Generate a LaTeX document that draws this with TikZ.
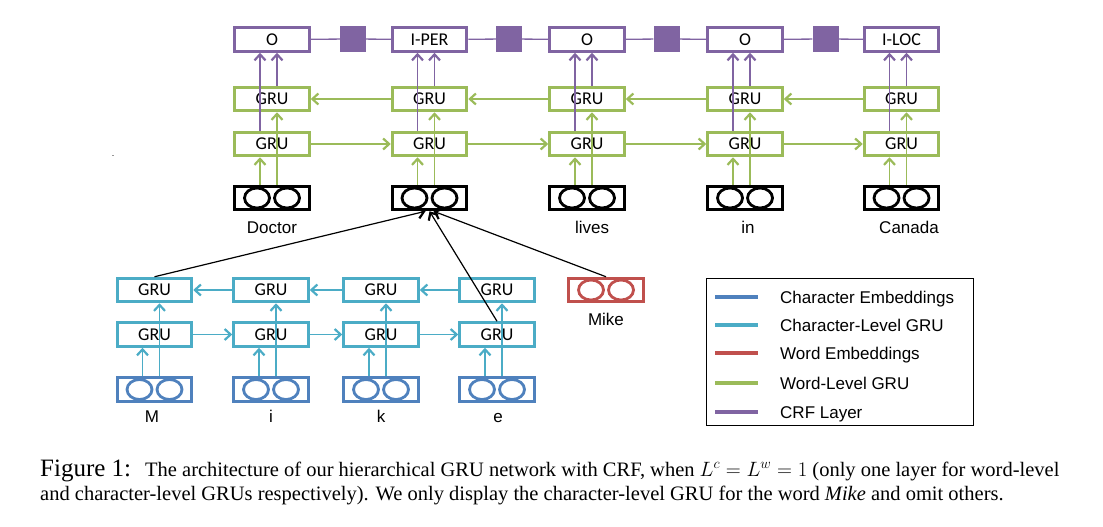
\documentclass[tikz,border=0pt]{standalone}
\usepackage{fontspec}
\setmainfont{Liberation Serif}
\newfontfamily\calfont{Carlito}
\newfontfamily\arialfont{Liberation Sans}
\usetikzlibrary{arrows.meta,positioning}
\definecolor{crfpurple}{HTML}{8064A2}
\definecolor{wordgreen}{HTML}{9BBB59}
\definecolor{chargru}{HTML}{4BACC6}
\definecolor{charemb}{HTML}{4F81BD}
\definecolor{wordemb}{HTML}{C0504D}
\tikzset{
  box/.style={rectangle,draw,line width=3pt,minimum width=74.5pt,minimum height=23.5pt,
    inner sep=0pt,font=\calfont\fontsize{18}{18}\selectfont},
  crf/.style={box,draw=crfpurple},
  wgru/.style={box,draw=wordgreen},
  cgru/.style={box,draw=chargru},
  emb/.style={box,draw=#1,path picture={
    \draw[#1,line width=2.8pt] ([xshift=-15pt]path picture bounding box.center) ellipse [x radius=12.5pt,y radius=10pt];
    \draw[#1,line width=2.8pt] ([xshift=15pt]path picture bounding box.center) ellipse [x radius=12.5pt,y radius=10pt];}},
  sq/.style={rectangle,fill=crfpurple,minimum size=26pt,inner sep=0pt},
  lbl/.style={anchor=base,inner sep=0pt,font=\arialfont\fontsize{17}{17}\selectfont},
  legtext/.style={anchor=base west,inner sep=0pt,font=\arialfont\fontsize{17}{17}\selectfont},
  legline/.style={line width=4pt},
  wline/.style={color=wordgreen,line width=1.3pt},
  pline/.style={color=crfpurple,line width=1.3pt},
  cline/.style={color=chargru,line width=1.3pt},
  kline/.style={color=black,line width=1.2pt},
}
\begin{document}
\begin{tikzpicture}[x=1pt,y=-1pt,>={Straight Barb[length=6pt,width=11pt,line width=2.2pt]}]
\useasboundingbox (0,0) rectangle (1103,527);
% CRF layer
\node (crf1) [crf] at (272,39.5) {O};
\node (crf2) [crf] at (429.5,39.5) {I-PER};
\node (crf3) [crf] at (587,39.5) {O};
\node (crf4) [crf] at (745,39.5) {O};
\node (crf5) [crf] at (901.5,39.5) {I-LOC};
\node (sq1) [sq] at (353,39) {};
\node (sq2) [sq] at (509,39) {};
\node (sq3) [sq] at (666.5,39) {};
\node (sq4) [sq] at (825.5,39) {};
% word-level GRU
\node (bw1) [wgru] at (272,99) {GRU};
\node (bw2) [wgru] at (429.5,99) {GRU};
\node (bw3) [wgru] at (587,99) {GRU};
\node (bw4) [wgru] at (745,99) {GRU};
\node (bw5) [wgru] at (901.5,99) {GRU};
\node (fw1) [wgru] at (272,144) {GRU};
\node (fw2) [wgru] at (429.5,144) {GRU};
\node (fw3) [wgru] at (587,144) {GRU};
\node (fw4) [wgru] at (745,144) {GRU};
\node (fw5) [wgru] at (901.5,144) {GRU};
% word embeddings
\node (emb1) [emb=black] at (272,198) {};
\node (emb2) [emb=black] at (429.5,198) {};
\node (emb3) [emb=black] at (587,198) {};
\node (emb4) [emb=black] at (745,198) {};
\node (emb5) [emb=black] at (901.5,198) {};
\node (w1) [lbl] at (272,233) {Doctor};
\node (w3) [lbl] at (592,233) {lives};
\node (w4) [lbl] at (748,233) {in};
\node (w5) [lbl] at (909,233) {Canada};
\node (dot) [inner sep=0pt,font=\arialfont\fontsize{9}{9}\selectfont] at (113,156) {.};
% character-level GRU
\node (ct1) [cgru] at (154.5,290) {GRU};
\node (ct2) [cgru] at (271,290) {GRU};
\node (ct3) [cgru] at (381,290) {GRU};
\node (ct4) [cgru] at (497,290) {GRU};
\node (cb1) [cgru] at (154.5,334.5) {GRU};
\node (cb2) [cgru] at (271,334.5) {GRU};
\node (cb3) [cgru] at (381,334.5) {GRU};
\node (cb4) [cgru] at (497,334.5) {GRU};
\node (ce1) [emb=charemb] at (154.5,389.5) {};
\node (ce2) [emb=charemb] at (271,389.5) {};
\node (ce3) [emb=charemb] at (381,389.5) {};
\node (ce4) [emb=charemb] at (497,389.5) {};
\node (c1) [lbl] at (152,422) {M};
\node (c2) [lbl] at (271,422) {i};
\node (c3) [lbl] at (381,422) {k};
\node (c4) [lbl] at (498,422) {e};
\node (mike) [emb=wordemb] at (606,290) {};
\node (mikel) [lbl] at (606,325) {Mike};
%
% CRF chain
\path[pline] (crf1) edge (sq1) (sq1) edge (crf2) (crf2) edge (sq2) (sq2) edge (crf3)
  (crf3) edge (sq3) (sq3) edge (crf4) (crf4) edge (sq4) (sq4) edge (crf5);
% recurrent arrows
\path[->,wline] (bw2) edge (bw1) (bw3) edge (bw2) (bw4) edge (bw3) (bw5) edge (bw4);
\path[->,wline] (fw1) edge (fw2) (fw2) edge (fw3) (fw3) edge (fw4) (fw4) edge (fw5);
\path[->,cline] (ct2) edge (ct1) (ct3) edge (ct2) (ct4) edge (ct3);
\path[->,cline] (cb1) edge (cb2) (cb2) edge (cb3) (cb3) edge (cb4);
% word columns
\path[->,wline] ([xshift=-12pt]emb1.north) edge ([xshift=-12pt]fw1.south) ([xshift=5pt]emb1.north) edge ([xshift=5pt]bw1.south)
  ([xshift=-12pt]emb2.north) edge ([xshift=-12pt]fw2.south) ([xshift=5pt]emb2.north) edge ([xshift=5pt]bw2.south)
  ([xshift=-12pt]emb3.north) edge ([xshift=-12pt]fw3.south) ([xshift=5pt]emb3.north) edge ([xshift=5pt]bw3.south)
  ([xshift=-12pt]emb4.north) edge ([xshift=-12pt]fw4.south) ([xshift=5pt]emb4.north) edge ([xshift=5pt]bw4.south)
  ([xshift=-12pt]emb5.north) edge ([xshift=-12pt]fw5.south) ([xshift=5pt]emb5.north) edge ([xshift=5pt]bw5.south);
\path[->,pline] ([xshift=-12pt]fw1.north) edge ([xshift=-12pt]crf1.south) ([xshift=5pt]bw1.north) edge ([xshift=5pt]crf1.south)
  ([xshift=-12pt]fw2.north) edge ([xshift=-12pt]crf2.south) ([xshift=5pt]bw2.north) edge ([xshift=5pt]crf2.south)
  ([xshift=-12pt]fw3.north) edge ([xshift=-12pt]crf3.south) ([xshift=5pt]bw3.north) edge ([xshift=5pt]crf3.south)
  ([xshift=-12pt]fw4.north) edge ([xshift=-12pt]crf4.south) ([xshift=5pt]bw4.north) edge ([xshift=5pt]crf4.south)
  ([xshift=-12pt]fw5.north) edge ([xshift=-12pt]crf5.south) ([xshift=5pt]bw5.north) edge ([xshift=5pt]crf5.south);
% character columns
\path[->,cline] ([xshift=-12pt]ce1.north) edge ([xshift=-12pt]cb1.south) ([xshift=5pt]ce1.north) edge ([xshift=5pt]ct1.south)
  ([xshift=-12pt]ce2.north) edge ([xshift=-12pt]cb2.south) ([xshift=5pt]ce2.north) edge ([xshift=5pt]ct2.south)
  ([xshift=-12pt]ce3.north) edge ([xshift=-12pt]cb3.south) ([xshift=5pt]ce3.north) edge ([xshift=5pt]ct3.south)
  ([xshift=-12pt]ce4.north) edge ([xshift=-12pt]cb4.south) ([xshift=5pt]ce4.north) edge ([xshift=5pt]ct4.south);
% into the word embedding of Mike
\path[->,kline] (ct1.north) edge ([xshift=-4pt]emb2.south)
  (cb4.north) edge (emb2.south)
  (mike.north) edge ([xshift=4pt]emb2.south);
%
% legend
\node (leg) [draw,line width=1.2pt,minimum width=267pt,minimum height=147pt,inner sep=0pt] at (840,352) {};
\draw[legline,charemb] (715,297) -- (758,297);
\draw[legline,chargru] (715,325) -- (758,325);
\draw[legline,wordemb] (715,353) -- (758,353);
\draw[legline,wordgreen] (715,383) -- (758,383);
\draw[legline,crfpurple] (715,412) -- (758,412);
\node (l1) [legtext] at (780,303) {Character Embeddings};
\node (l2) [legtext] at (780,331) {Character-Level GRU};
\node (l3) [legtext] at (780,359) {Word Embeddings};
\node (l4) [legtext] at (780,389) {Word-Level GRU};
\node (l5) [legtext] at (780,418) {CRF Layer};
%
% caption
\node (fig) [anchor=base west,inner sep=0pt,font=\fontsize{25}{25}\selectfont] at (40,476) {Figure 1:};
\node (cap1) [anchor=base west,inner sep=0pt,font=\fontsize{20.5}{20.5}\selectfont] at (145,476)
  {The architecture of our hierarchical GRU network with CRF, when $L^c = L^w = 1$ (only one layer for word-level};
\node (cap2) [anchor=base west,inner sep=0pt,font=\fontsize{20.5}{20.5}\selectfont] at (40,500)
  {and character-level GRUs respectively). We only display the character-level GRU for the word \textit{Mike} and omit others.};
\end{tikzpicture}
\end{document}
